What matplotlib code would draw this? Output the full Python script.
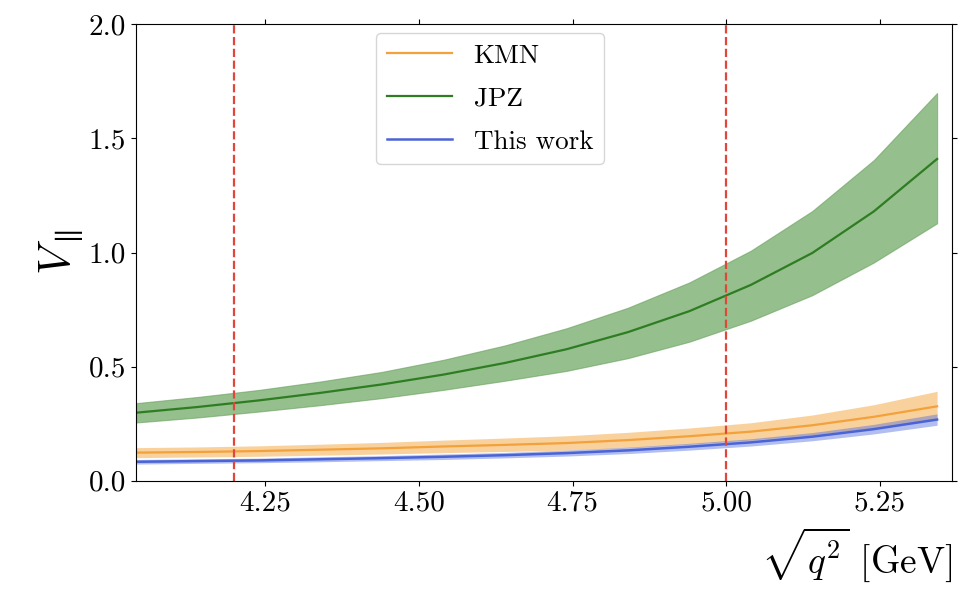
import matplotlib
matplotlib.use("Agg")
import matplotlib.pyplot as plt

plt.rcParams['font.family'] = 'serif'
plt.rcParams['font.serif'] = ['cmr10', 'DejaVu Serif']
plt.rcParams['mathtext.fontset'] = 'cm'
plt.rcParams['axes.formatter.use_mathtext'] = True

# sqrt(q^2) in GeV
x = [4.04, 4.14, 4.24, 4.34, 4.44, 4.54, 4.64, 4.74, 4.84, 4.94, 5.04, 5.14, 5.24, 5.343]

# JPZ
jpz = [0.298, 0.323, 0.352, 0.385, 0.422, 0.465, 0.516, 0.576, 0.651, 0.743, 0.858, 0.998, 1.180, 1.410]
jpz_hi = [0.340, 0.367, 0.398, 0.435, 0.477, 0.530, 0.593, 0.668, 0.758, 0.869, 1.008, 1.182, 1.405, 1.699]
jpz_lo = [0.255, 0.277, 0.303, 0.331, 0.362, 0.398, 0.438, 0.481, 0.537, 0.609, 0.701, 0.813, 0.956, 1.128]

# KMN
kmn = [0.123, 0.126, 0.130, 0.136, 0.142, 0.150, 0.157, 0.165, 0.178, 0.195, 0.215, 0.243, 0.280, 0.326]
kmn_hi = [0.145, 0.148, 0.153, 0.160, 0.168, 0.178, 0.187, 0.197, 0.212, 0.231, 0.254, 0.288, 0.333, 0.392]
kmn_lo = [0.101, 0.104, 0.107, 0.112, 0.117, 0.123, 0.128, 0.134, 0.145, 0.160, 0.178, 0.201, 0.232, 0.270]

# this work
tw = [0.083, 0.086, 0.089, 0.094, 0.099, 0.105, 0.112, 0.121, 0.133, 0.149, 0.168, 0.193, 0.226, 0.268]
tw_hi = [0.093, 0.096, 0.099, 0.105, 0.110, 0.117, 0.124, 0.134, 0.147, 0.164, 0.184, 0.211, 0.247, 0.293]
tw_lo = [0.073, 0.076, 0.079, 0.083, 0.088, 0.093, 0.100, 0.108, 0.119, 0.134, 0.152, 0.175, 0.205, 0.243]

vlines = [4.2, 5.0]

fig = plt.figure(figsize=(9.66, 6.0), dpi=100)
ax = fig.add_axes([0.1408, 0.1988, 0.8452, 0.7607])

ax.plot(x, kmn, color='#f3a13a', lw=1.6, label='KMN')
ax.fill_between(x, kmn_lo, kmn_hi, color='#f5a53c', alpha=0.5, lw=0)

ax.plot(x, jpz, color='#2f7d22', lw=1.6, label='JPZ')
ax.fill_between(x, jpz_lo, jpz_hi, color='#3f8c30', alpha=0.55, lw=0.8, edgecolor='#5f9a52')

ax.plot(x, tw, color='#4a64d6', lw=1.8, label='This work')
ax.fill_between(x, tw_lo, tw_hi, color='#5570dd', alpha=0.45, lw=0)

for v in vlines:
    ax.axvline(v, color='#e0463a', ls='--', lw=1.6)

ax.set_xlim(4.04, 5.368)
ax.set_ylim(0, 2.0)
ax.set_xticks([4.25, 4.50, 4.75, 5.00, 5.25])
ax.set_xticklabels(['4.25', '4.50', '4.75', '5.00', '5.25'])
ax.set_yticks([0.0, 0.5, 1.0, 1.5, 2.0])
ax.set_yticklabels(['0.0', '0.5', '1.0', '1.5', '2.0'])
ax.tick_params(top=True, right=True, labelsize=21)

ax.set_ylabel(r'$V_{\parallel}$', fontsize=32, labelpad=2)
ax.set_xlabel(r'$\sqrt{q^2}$ [GeV]', fontsize=27, loc='right', labelpad=6)

ax.legend(loc='upper left', bbox_to_anchor=(0.294, 0.981), borderaxespad=0,
          fontsize=19.5, handlelength=2.4, labelspacing=0.7, framealpha=0.8)

fig.savefig('out.png', dpi=100)
